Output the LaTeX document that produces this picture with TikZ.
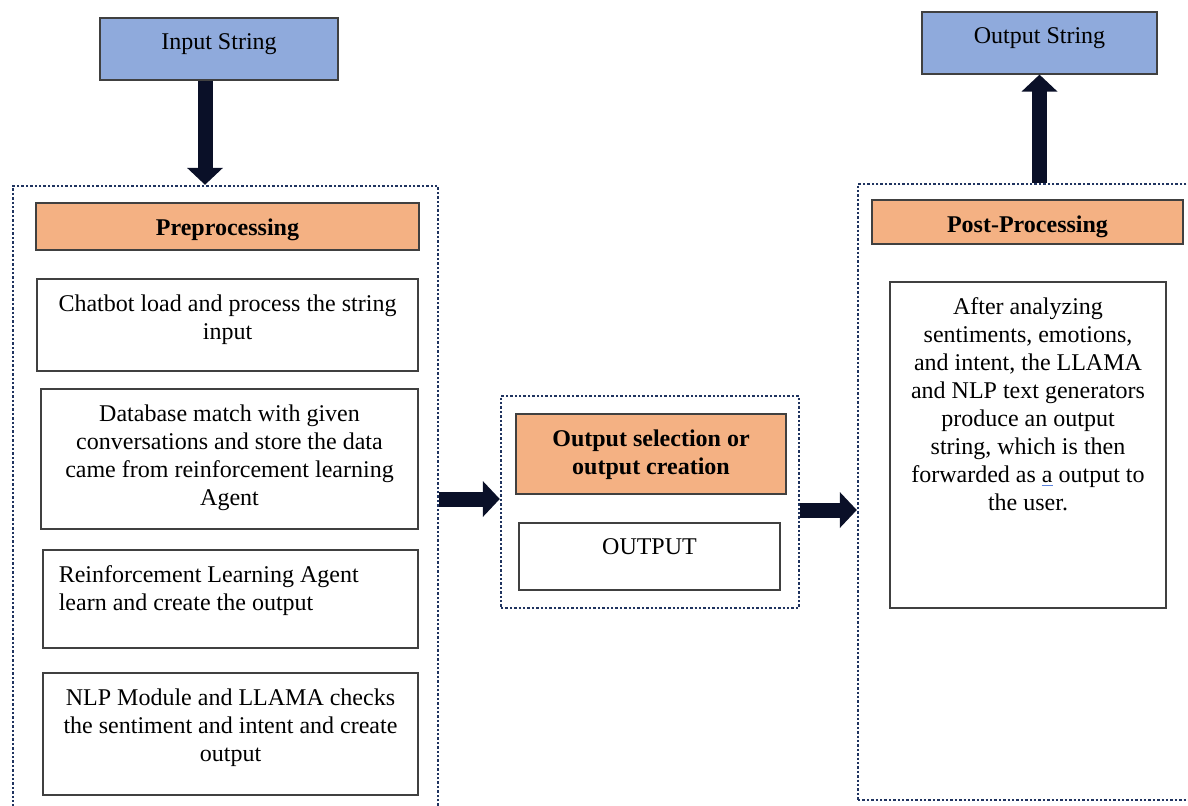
\documentclass[tikz,border=0pt]{standalone}
\usepackage{fontspec}
\setmainfont{Liberation Serif}
\usepackage{xcolor}
\usetikzlibrary{arrows.meta,positioning}
\definecolor{strblue}{RGB}{143,170,220}
\definecolor{stageorange}{RGB}{244,177,131}
\definecolor{grpnavy}{RGB}{32,52,96}
\definecolor{arrnavy}{RGB}{10,16,40}
\definecolor{markblue}{RGB}{90,130,220}

\begin{document}
\begin{tikzpicture}[x=0.5pt,y=-0.5pt,
  frame/.style={draw=black!75,line width=0.6pt,inner sep=0pt},
  strbox/.style={frame,fill=strblue},
  stagebox/.style={frame,fill=stageorange},
  group/.style={draw=grpnavy,densely dotted,line width=1.2pt,inner sep=0pt},
  txt/.style={inner sep=0pt,align=center,font=\fontsize{12}{14}\selectfont},
  hdr/.style={txt,font=\fontsize{12}{14}\selectfont\bfseries},
  flow/.style={draw=arrnavy,line width=7.5pt,-{Triangle[width=17.5pt,length=8.5pt]}}]
\path[use as bounding box,clip] (0,0) rectangle (1188,805);

% input and output strings
\node[strbox,minimum width=119pt,minimum height=31pt] (instr) at (219,49) {};
\node[txt,below=8pt of instr.north] {Input String};
\node[strbox,minimum width=117.5pt,minimum height=31pt] (outstr) at (1039.5,43) {};
\node[txt,below=8pt of outstr.north] {Output String};

% preprocessing stage
\node[group,minimum width=212.5pt,minimum height=313pt] (pregrp) at (225.5,499) {};
\node[stagebox,minimum width=191.5pt,minimum height=23.5pt] (prehdr) at (227.5,226.5) {};
\node[hdr,below=8pt of prehdr.north] {Preprocessing};
\node[frame,minimum width=190.5pt,minimum height=46pt] (load) at (227.5,325) {};
\node[txt,below=8pt of load.north] {Chatbot load and process the string\\input};
\node[frame,minimum width=188.5pt,minimum height=70pt] (dbmatch) at (229.5,459) {};
\node[txt,below=8pt of dbmatch.north] {Database match with given\\conversations and store the data\\came from reinforcement learning\\Agent};
\node[frame,minimum width=187.5pt,minimum height=49pt] (rlagent) at (230.5,599) {};
\node[txt,align=left,below right=8pt and 8pt of rlagent.north west] {Reinforcement Learning Agent\\learn and create the output};
\node[frame,minimum width=187.5pt,minimum height=61pt] (nlpcheck) at (230.5,734) {};
\node[txt,below=8pt of nlpcheck.north] {NLP Module and LLAMA checks\\the sentiment and intent and create\\output};

% output selection
\node[group,minimum width=149pt,minimum height=106pt] (midgrp) at (650,502) {};
\node[stagebox,minimum width=135pt,minimum height=40pt] (selhdr) at (651,454) {};
\node[hdr,below=8pt of selhdr.north] {Output selection or\\output creation};
\node[frame,minimum width=130.5pt,minimum height=33.5pt] (outbox) at (649.5,556.5) {};
\node[txt,below=8pt of outbox.north] {OUTPUT};

% post-processing stage
\node[group,minimum width=169pt,minimum height=308pt] (postgrp) at (1027,492) {};
\node[stagebox,minimum width=155.5pt,minimum height=22pt] (posthdr) at (1027.5,222) {};
\node[hdr,below=8pt of posthdr.north] {Post-Processing};
\node[frame,minimum width=138pt,minimum height=163pt] (genbox) at (1028,445) {};
\node[txt,below=8pt of genbox.north] {After analyzing\\sentiments, emotions,\\and intent, the LLAMA\\and NLP text generators\\produce an output\\string, which is then\\forwarded as \makebox[0pt][l]{\color{markblue}\underline{\phantom{a}}}a output to\\the user.};

% block arrows
\coordinate (infoot) at ([xshift=-7pt]instr.south);
\coordinate (midout) at ([yshift=-4pt]midgrp.east);
\draw[flow] (infoot) -- (infoot |- pregrp.north);
\draw[flow] (pregrp.east) -- (pregrp.east -| midgrp.west);
\draw[flow] (midout) -- (midout -| postgrp.west);
\draw[flow] (outstr.south |- postgrp.north) -- (outstr.south);
\end{tikzpicture}
\end{document}
